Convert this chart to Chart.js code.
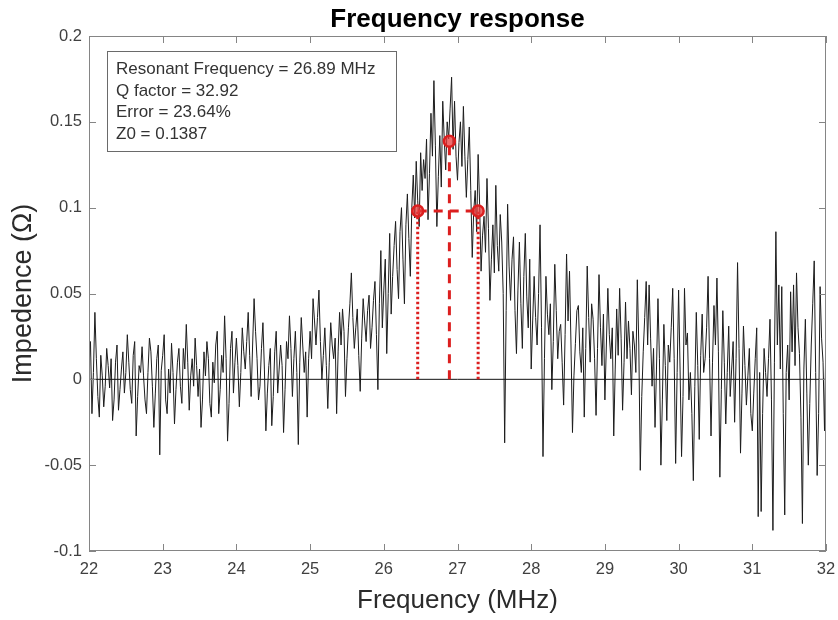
<!DOCTYPE html>
<html>
<head>
<meta charset="utf-8">
<script src="https://cdn.jsdelivr.net/npm/chart.js@4/dist/chart.umd.min.js"></script>
<style>
  html, body { margin: 0; padding: 0; background: #fff; }
  #chart { display: block; }
</style>
</head>
<body>
<canvas id="chart" width="838" height="620"></canvas>
<script>
// sweep grid (MHz)
var freqStart = 22;
var freqStep = 0.02;

// measured impedance, one value per sweep step (ohm)
var impedance = [
	// 22
	0.008, 0.022, -0.02, 0.004, 0.039, 0.012, -0.01, -0.022, 0.014, 0.002,
	-0.016, -0.004, 0.018, 0.008, -0.005, 0.012, -0.024, -0.012, 0.01, 0.02,
	-0.018, -0.006, 0.006, 0.016, -0.008, 0.004, 0.026, 0.01, -0.006, -0.014,
	0.014, 0.022, -0.033, -0.01, 0.008, 0.004, 0.019, 0.002, -0.012, -0.02,
	0.004, 0.024, 0.016, -0.004, -0.028, -0.008, 0.012, 0.02, -0.044, 0.005,
	// 23
	0.014, 0.026, -0.012, -0.02, 0.006, -0.008, 0.021, 0.004, -0.026, -0.006,
	0.01, 0.018, -0.004, -0.014, 0.018, 0.006, 0.032, 0.01, -0.018, 0.002,
	0.012, -0.004, 0.024, 0.008, -0.01, 0.006, -0.028, -0.012, 0.016, 0.002,
	0.022, 0.012, -0.014, -0.022, 0.01, -0.002, 0.02, 0.028, -0.02, -0.006,
	0.014, 0.004, 0.037, 0.012, -0.036, -0.014, 0.018, 0.028, -0.008, 0.01,
	// 24
	0.024, 0.008, -0.016, 0.004, 0.03, 0.016, 0.006, 0.022, 0.039, 0.014,
	-0.01, 0.02, 0.047, 0.028, 0.012, -0.012, -0.004, 0.018, 0.033, 0.006,
	-0.03, -0.008, 0.008, 0.018, -0.027, -0.01, 0.016, 0.028, -0.008, 0.006,
	0.02, 0.008, -0.031, -0.006, 0.022, 0.012, 0.037, 0.018, -0.01, 0.012,
	0.028, 0.004, -0.038, 0.01, 0.036, 0.02, 0.004, 0.016, -0.022, 0.012,
	// 25
	0.028, 0.012, 0.047, 0.034, 0.02, 0.036, 0.052, 0.022, 0.0, 0.014,
	0.03, 0.008, -0.017, 0.01, 0.033, 0.02, 0.012, 0.024, -0.02, 0.016,
	0.039, 0.02, 0.041, 0.028, -0.01, 0.012, 0.03, 0.044, 0.062, 0.036,
	0.018, 0.03, 0.041, 0.014, -0.007, 0.024, 0.047, 0.034, 0.022, 0.04,
	0.049, 0.018, 0.03, 0.046, 0.057, 0.026, -0.006, 0.044, 0.075, 0.03,
	// 26
	0.052, 0.07, 0.015, 0.05, 0.085, 0.038, 0.06, 0.078, 0.092, 0.064,
	0.047, 0.086, 0.1, 0.07, 0.044, 0.09, 0.108, 0.082, 0.06, 0.1,
	0.119, 0.094, 0.127, 0.104, 0.089, 0.132, 0.11, 0.128, 0.117, 0.14,
	0.093, 0.12, 0.155, 0.13, 0.174, 0.136, 0.089, 0.118, 0.142, 0.112,
	0.162, 0.14, 0.122, 0.15, 0.14, 0.158, 0.176, 0.134, 0.162, 0.13,
	// 27
	0.116, 0.138, 0.15, 0.124, 0.159, 0.13, 0.106, 0.128, 0.147, 0.11,
	0.071, 0.098, 0.11, 0.086, 0.131, 0.102, 0.063, 0.084, 0.095, 0.074,
	0.117, 0.088, 0.046, 0.07, 0.09, 0.062, 0.113, 0.078, 0.063, 0.096,
	0.08, 0.05, -0.037, 0.04, 0.102, 0.066, 0.046, 0.07, 0.083, 0.04,
	0.015, 0.052, 0.08, 0.044, 0.018, 0.06, 0.085, 0.048, 0.03, 0.07,
	// 28
	0.006, 0.034, 0.06, 0.036, 0.02, 0.05, 0.09, 0.03, -0.045, 0.012,
	0.06, 0.038, 0.026, 0.044, -0.006, 0.022, 0.067, 0.04, 0.012, 0.028,
	0.032, 0.01, -0.015, 0.026, 0.073, 0.034, 0.063, 0.02, -0.031, 0.002,
	0.021, 0.04, 0.043, 0.016, 0.004, 0.03, -0.022, 0.018, 0.066, 0.036,
	0.01, 0.044, 0.035, 0.012, -0.021, 0.018, 0.061, 0.03, 0.008, 0.038,
	// 29
	-0.012, 0.02, 0.053, 0.026, 0.012, 0.03, -0.033, 0.006, 0.041, 0.014,
	0.053, 0.024, -0.018, 0.01, 0.045, 0.012, 0.034, 0.018, -0.009, 0.028,
	0.02, 0.004, 0.058, 0.02, -0.053, -0.01, 0.016, 0.036, 0.057, 0.02,
	0.055, 0.024, -0.004, 0.018, -0.028, 0.006, 0.047, 0.012, -0.05, -0.012,
	0.032, 0.008, -0.024, 0.02, 0.01, 0.03, 0.053, 0.012, -0.049, 0.004,
	// 30
	0.052, 0.006, -0.045, -0.01, 0.053, 0.02, 0.027, -0.012, 0.004, -0.02,
	-0.059, -0.004, 0.039, 0.008, -0.035, 0.014, 0.038, 0.004, 0.012, 0.03,
	0.06, 0.012, -0.033, 0.01, 0.043, 0.02, 0.059, 0.016, -0.057, -0.006,
	0.04, 0.01, -0.026, 0.004, 0.031, -0.01, 0.006, 0.022, -0.025, 0.012,
	0.068, 0.018, -0.043, -0.008, 0.031, 0.008, -0.015, 0.002, 0.018, -0.02,
	// 31 .. 32
	-0.03, -0.008, 0.012, 0.03, -0.08, 0.004, -0.077, -0.02, 0.018, 0.004,
	-0.01, 0.012, 0.035, -0.012, -0.088, 0.01, 0.086, 0.02, 0.055, 0.006,
	0.054, -0.02, -0.079, 0.004, 0.02, -0.012, 0.051, 0.016, 0.055, 0.008,
	0.062, 0.03, 0.015, -0.022, -0.084, 0.006, 0.035, -0.008, -0.05, -0.014,
	0.02, 0.044, 0.069, 0.004, -0.056, -0.02, 0.054, 0.024, 0.01, -0.03,
	0.028
];

// fit results
var resonantFreq = 26.89;
var z0 = 0.1387;
var halfPowerFreqs = [26.46, 27.28];
var halfPowerLevel = 0.0981;

var infoLines = [
	"Resonant Frequency = 26.89 MHz",
	"Q factor = 32.92",
	"Error = 23.64%",
	"Z0 = 0.1387"
];

var xTickValues = [22, 23, 24, 25, 26, 27, 28, 29, 30, 31, 32];
var yTickValues = [-0.1, -0.05, 0, 0.05, 0.1, 0.15, 0.2];

var FONT = "'Liberation Sans', Arial, sans-serif";
var RED = "#dc1f1f";

var signal = impedance.map(function (v, i) {
	return { x: freqStart + i * freqStep, y: v };
});

// title, info box, full frame and inward ticks like a matlab axes
var matlabAxes = {
	id: "matlabAxes",
	afterDatasetsDraw: function (chart) {
		var ctx = chart.ctx;
		var a = chart.chartArea;
		var xs = chart.scales.x;
		var ys = chart.scales.y;
		ctx.save();

		ctx.strokeStyle = "#858585";
		ctx.lineWidth = 1;
		ctx.strokeRect(a.left + 0.5, a.top + 0.5, a.right - a.left - 1, a.bottom - a.top - 1);
		ctx.beginPath();
		xTickValues.forEach(function (v) {
			var px = Math.round(xs.getPixelForValue(v)) + 0.5;
			ctx.moveTo(px, a.bottom);
			ctx.lineTo(px, a.bottom - 7);
			ctx.moveTo(px, a.top);
			ctx.lineTo(px, a.top + 7);
		});
		yTickValues.forEach(function (v) {
			var py = Math.round(ys.getPixelForValue(v)) + 0.5;
			ctx.moveTo(a.left, py);
			ctx.lineTo(a.left + 7, py);
			ctx.moveTo(a.right, py);
			ctx.lineTo(a.right - 7, py);
		});
		ctx.stroke();

		// title
		ctx.fillStyle = "#000";
		ctx.font = "bold 26px " + FONT;
		ctx.textAlign = "center";
		ctx.textBaseline = "alphabetic";
		ctx.fillText("Frequency response", (a.left + a.right) / 2, 27);

		// info box
		var bx = a.left + 18, by = a.top + 15;
		ctx.fillStyle = "#fff";
		ctx.fillRect(bx, by, 289, 100);
		ctx.strokeStyle = "#6a6a6a";
		ctx.strokeRect(bx + 0.5, by + 0.5, 289, 100);
		ctx.fillStyle = "#333";
		ctx.font = "17px " + FONT;
		ctx.textAlign = "left";
		infoLines.forEach(function (t, i) {
			ctx.fillText(t, bx + 9, by + 23 + i * 21.7);
		});
		ctx.restore();
	}
};

new Chart(document.getElementById("chart").getContext("2d"), {
	type: "line",
	data: {
		datasets: [
			{
				label: "peak markers",
				data: [
					{ x: halfPowerFreqs[0], y: halfPowerLevel },
					{ x: resonantFreq, y: z0 },
					{ x: halfPowerFreqs[1], y: halfPowerLevel }
				],
				showLine: false,
				pointRadius: 5.5,
				pointBorderWidth: 2.5,
				pointBorderColor: RED,
				pointBackgroundColor: "rgba(232,60,60,0.75)",
				order: 0
			},
			{
				label: "resonance",
				data: [{ x: resonantFreq, y: 0 }, { x: resonantFreq, y: z0 }],
				borderColor: RED,
				borderWidth: 3,
				borderDash: [9, 7],
				pointRadius: 0,
				order: 1
			},
			{
				label: "bandwidth",
				data: [{ x: halfPowerFreqs[0], y: halfPowerLevel }, { x: halfPowerFreqs[1], y: halfPowerLevel }],
				borderColor: RED,
				borderWidth: 3,
				borderDash: [9, 7],
				pointRadius: 0,
				order: 1
			},
			{
				label: "lower",
				data: [{ x: halfPowerFreqs[0], y: 0 }, { x: halfPowerFreqs[0], y: halfPowerLevel }],
				borderColor: RED,
				borderWidth: 3,
				borderDash: [2.5, 2.5],
				pointRadius: 0,
				order: 1
			},
			{
				label: "upper",
				data: [{ x: halfPowerFreqs[1], y: 0 }, { x: halfPowerFreqs[1], y: halfPowerLevel }],
				borderColor: RED,
				borderWidth: 3,
				borderDash: [2.5, 2.5],
				pointRadius: 0,
				order: 1
			},
			{
				label: "zero",
				data: [{ x: 22, y: 0 }, { x: 32, y: 0 }],
				borderColor: "#111",
				borderWidth: 1,
				pointRadius: 0,
				order: 2
			},
			{
				label: "Impedence",
				data: signal,
				borderColor: "#1c1c1c",
				borderWidth: 1,
				pointRadius: 0,
				tension: 0,
				order: 3
			}
		]
	},
	options: {
		responsive: false,
		animation: false,
		devicePixelRatio: 1,
		layout: { padding: { top: 36, right: 12, left: 0, bottom: 0 } },
		plugins: {
			legend: { display: false },
			tooltip: { enabled: false },
			title: { display: false }
		},
		scales: {
			x: {
				type: "linear",
				min: 22,
				max: 32,
				afterBuildTicks: function (s) {
					s.ticks = xTickValues.map(function (v) { return { value: v }; });
				},
				afterFit: function (s) {
					s.height = 69;
					s.paddingLeft = 0;
					s.paddingRight = 0;
				},
				grid: { drawOnChartArea: false, drawTicks: false },
				border: { display: false },
				ticks: {
					color: "#404040",
					font: { family: FONT, size: 16.5 },
					padding: 9,
					maxRotation: 0,
					callback: function (v) { return String(v); }
				},
				title: {
					display: true,
					text: "Frequency (MHz)",
					color: "#2b2b2b",
					font: { family: FONT, size: 26 },
					padding: { top: 0, bottom: 4 }
				}
			},
			y: {
				min: -0.1,
				max: 0.2,
				afterBuildTicks: function (s) {
					s.ticks = yTickValues.map(function (v) { return { value: v }; });
				},
				afterFit: function (s) {
					s.width = 89;
					s.paddingTop = 0;
					s.paddingBottom = 0;
				},
				grid: { drawOnChartArea: false, drawTicks: false },
				border: { display: false },
				ticks: {
					color: "#404040",
					font: { family: FONT, size: 16.5 },
					padding: 7,
					callback: function (v) { return String(Math.round(v * 100) / 100); }
				},
				title: {
					display: true,
					text: "Impedence (\u03a9)",
					color: "#2b2b2b",
					font: { family: FONT, size: 27 },
					padding: { top: 7, bottom: 0 }
				}
			}
		}
	},
	plugins: [matlabAxes]
});
</script>
</body>
</html>
